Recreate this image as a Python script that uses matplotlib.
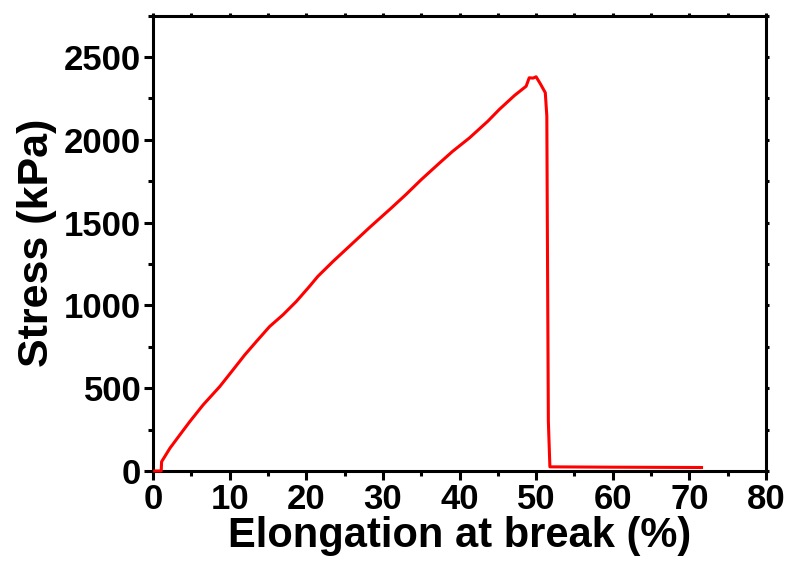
import matplotlib
matplotlib.use("Agg")
import matplotlib.pyplot as plt
from matplotlib.ticker import MultipleLocator

plt.rcParams['font.family'] = ['Liberation Sans', 'DejaVu Sans']
plt.rcParams['font.weight'] = 'bold'

elongation = [0.2, 1.05, 1.1, 2.18, 3.48, 4.78, 6.52, 8.7, 10.43, 11.96, 13.48,
              15.2, 16.95, 18.7, 20.4, 21.5, 23.5, 25.6, 28.3, 31.1, 33.0, 35.0,
              37.4, 39.1, 41.3, 43.7, 45.2, 47.2, 48.7, 49.1, 49.6, 50.0, 50.6,
              51.2, 51.4, 51.45, 51.6, 51.8, 60.0, 71.6]
stress = [0, 0, 56, 137, 218, 298, 399, 510, 611, 701, 782,
          872, 943, 1024, 1114, 1175, 1266, 1356, 1472, 1588, 1669, 1759,
          1860, 1930, 2011, 2112, 2183, 2268, 2323, 2374, 2372, 2380, 2334,
          2284, 2142, 1640, 300, 25, 23, 21]

x_ticks = [0, 10, 20, 30, 40, 50, 60, 70, 80]
y_ticks = [0, 500, 1000, 1500, 2000, 2500]

fig = plt.figure(figsize=(7.92, 5.68), dpi=100)
ax = fig.add_axes([0.1934, 0.1708, 0.967 - 0.1934, 0.9727 - 0.1708])
ax.plot(elongation, stress, color='#ff0000', lw=2.2, solid_joinstyle='round',
        zorder=3, clip_on=False)

ax.set_xlim(0, 80)
ax.set_ylim(0, 2750)
ax.set_xticks(x_ticks)
ax.set_yticks(y_ticks)
ax.xaxis.set_minor_locator(MultipleLocator(5))
ax.yaxis.set_minor_locator(MultipleLocator(250))

for s in ax.spines.values():
    s.set_linewidth(2.2)

ax.tick_params(axis='both', which='major', direction='out', length=6.5, width=2.2,
               labelsize=25, pad=2)
ax.tick_params(axis='both', which='minor', direction='out', length=3.5, width=2.2)
ax.tick_params(top=True, right=True, which='both')
# top/right ticks: short
for t in ax.xaxis.get_major_ticks() + ax.xaxis.get_minor_ticks():
    t.tick2line.set_markersize(2.0)
for t in ax.yaxis.get_major_ticks() + ax.yaxis.get_minor_ticks():
    t.tick2line.set_markersize(2.0)

for lab in ax.get_xticklabels() + ax.get_yticklabels():
    lab.set_fontweight('bold')

ax.set_xlabel('Elongation at break (%)', fontsize=30, fontweight='bold', labelpad=0)
ax.set_ylabel('Stress (kPa)', fontsize=31, fontweight='bold', labelpad=5)

fig.savefig('out.png', dpi=100)
